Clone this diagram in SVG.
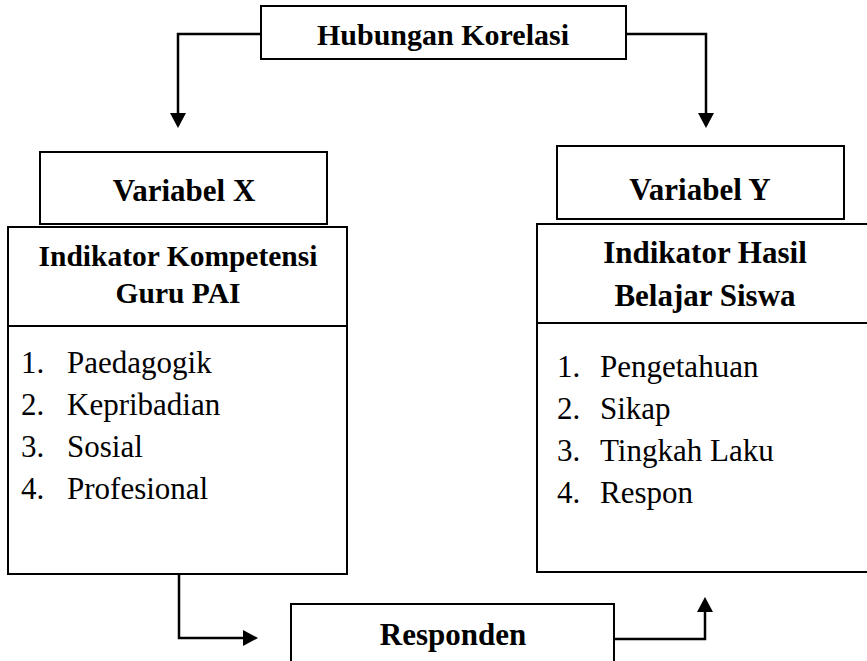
<svg xmlns="http://www.w3.org/2000/svg" width="867" height="661" viewBox="0 0 867 661">
<style>
.box{fill:#fff;stroke:#000;stroke-width:2}
.conn{fill:none;stroke:#000;stroke-width:2.5;marker-end:url(#arr)}
.t{font-family:"Liberation Serif","Times New Roman",serif;fill:#000}
.b{font-weight:bold}
.c{text-anchor:middle}
.h{font-size:30px}
.l{font-size:31px}
</style>
<defs>
<marker id="arr" markerUnits="userSpaceOnUse" markerWidth="16" markerHeight="17" refX="0" refY="8" orient="auto" viewBox="0 0 16 16">
<path d="M0,0 L15,8 L0,16 z" fill="#000"/>
</marker>
</defs>
<rect width="867" height="661" fill="#fff"/>
<g id="connectors">
<path class="conn" d="M261,34 H178 V113"/>
<path class="conn" d="M626,34 H706 V113"/>
<path class="conn" d="M179,572 V638 H243"/>
<path class="conn" d="M614,639 H705 V612"/>
</g>
<g id="hubungan">
<rect class="box" x="261" y="6" width="365" height="53"/>
<text class="t b c h" x="443" y="45" font-size="29.5">Hubungan Korelasi</text>
</g>
<g id="variabel-x">
<rect class="box" x="40" y="152" width="287" height="72"/>
<text class="t b c l" x="184" y="201">Variabel X</text>
</g>
<g id="indikator-x">
<rect class="box" x="8" y="227" width="339" height="347"/>
<line x1="8" y1="326" x2="347" y2="326" stroke="#000" stroke-width="2"/>
<text class="t b c" x="178" y="266" font-size="29.5">Indikator Kompetensi</text>
<text class="t b c" x="178" y="303" font-size="29.5">Guru PAI</text>
<text class="t l" x="21" y="373">1.</text><text class="t l" x="67" y="373">Paedagogik</text>
<text class="t l" x="21" y="415">2.</text><text class="t l" x="67" y="415">Kepribadian</text>
<text class="t l" x="21" y="457">3.</text><text class="t l" x="67" y="457">Sosial</text>
<text class="t l" x="21" y="499">4.</text><text class="t l" x="67" y="499">Profesional</text>
</g>
<g id="variabel-y">
<rect class="box" x="557" y="146" width="287" height="73"/>
<text class="t b c l" x="700" y="200">Variabel Y</text>
</g>
<g id="indikator-y">
<rect class="box" x="537" y="224" width="345" height="348"/>
<line x1="537" y1="323" x2="867" y2="323" stroke="#000" stroke-width="2"/>
<text class="t b c l" x="705" y="263">Indikator Hasil</text>
<text class="t b c l" x="705" y="306">Belajar Siswa</text>
<text class="t l" x="557" y="377">1.</text><text class="t l" x="600" y="377">Pengetahuan</text>
<text class="t l" x="557" y="419">2.</text><text class="t l" x="600" y="419">Sikap</text>
<text class="t l" x="557" y="461">3.</text><text class="t l" x="600" y="461">Tingkah Laku</text>
<text class="t l" x="557" y="503">4.</text><text class="t l" x="600" y="503">Respon</text>
</g>
<g id="responden">
<rect class="box" x="291" y="604" width="323" height="80"/>
<text class="t b c l" x="453" y="645">Responden</text>
</g>
</svg>
